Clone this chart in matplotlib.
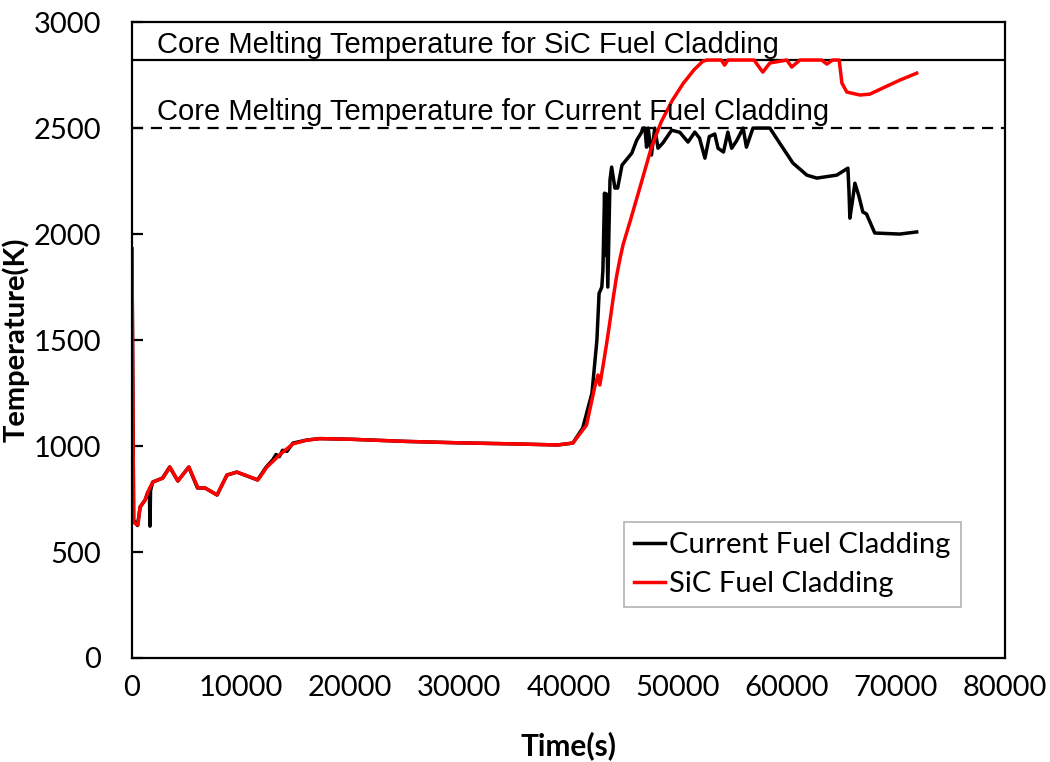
import matplotlib.pyplot as plt

# Current fuel cladding (black)
time_current = [0, 150, 500, 750, 1200, 1450, 1600, 1650, 1700, 1900, 2800, 3450, 4200, 5200,
                6000, 6700, 7800, 8700, 9600, 11500, 12300, 12900, 13200, 13500, 13800, 14200,
                14750, 16000, 17200, 20000, 25000, 30000, 35000, 39000, 40400, 41300, 42150,
                42600, 42800, 43050, 43150, 43300, 43400, 43450, 43600, 43800, 43950, 44250,
                44500, 44900, 45800, 46250, 46700, 46800, 47000, 47150, 47300, 47600, 47900,
                48200, 48650, 49450, 50200, 50950, 51570, 52000, 52500, 52900, 53400, 53700,
                54200, 54600, 54950, 55400, 56000, 56300, 56900, 58450, 59350, 60560, 61840,
                62750, 64580, 65600, 65700, 65780, 66000, 66240, 66600, 66970, 67300, 68060,
                70350, 71900]
temp_current = [1930, 650, 625, 712, 745, 783, 760, 622, 790, 830, 849, 901, 835, 901,
                802, 802, 769, 863, 877, 840, 901, 935, 960, 950, 980, 975,
                1014, 1028, 1035, 1032, 1022, 1015, 1010, 1005, 1014, 1085, 1250,
                1500, 1720, 1750, 1830, 2193, 1900, 2190, 1750, 2255, 2316, 2217,
                2217, 2325, 2382, 2443, 2481, 2500, 2500, 2410, 2500, 2373, 2500,
                2405, 2430, 2490, 2480, 2434, 2481, 2453, 2358, 2460, 2472, 2405,
                2387, 2481, 2405, 2440, 2500, 2410, 2500, 2500, 2429, 2335, 2278,
                2264, 2278, 2311, 2200, 2075, 2150, 2240, 2180, 2104, 2095, 2005,
                2000, 2010]

# SiC fuel cladding (red)
time_sic = [0, 150, 550, 730, 1190, 1470, 1600, 1920, 2840, 3480, 4210, 5220, 6050, 6690,
            7790, 8700, 9620, 11540, 12370, 13560, 14750, 16030, 17220, 20000, 25000, 30000,
            35000, 39000, 40400, 41650, 42400, 42700, 42870, 43200, 43500, 43800, 44100,
            44400, 44700, 45000, 45700, 46600, 47600, 48500, 49500, 50500, 51500, 52300,
            52700, 54000, 54300, 54600, 57000, 57800, 58450, 60000, 60450, 61200, 63200,
            63670, 64200, 64800, 65050, 65500, 66700, 67600, 68800, 70350, 71900]
temp_sic = [1930, 640, 627, 712, 745, 783, 800, 830, 849, 901, 835, 901, 802, 802,
            769, 863, 877, 840, 901, 960, 1010, 1028, 1035, 1032, 1022, 1015,
            1010, 1005, 1014, 1099, 1278, 1335, 1288, 1390, 1486, 1590, 1700,
            1800, 1880, 1950, 2070, 2230, 2410, 2530, 2630, 2710, 2775, 2815,
            2821, 2821, 2797, 2821, 2821, 2764, 2807, 2821, 2788, 2821, 2821,
            2802, 2821, 2821, 2712, 2670, 2656, 2660, 2689, 2726, 2759]

melt_sic = 2821
melt_current = 2500

fig = plt.figure(figsize=(10.5, 7.62), dpi=100)
ax = fig.add_axes([0.1257, 0.1365, 0.8315, 0.8345])

ax.axhline(melt_sic, color='black', lw=1.6)
ax.axhline(melt_current, color='black', lw=1.6, ls=(0, (5, 3.5)))
ax.plot(time_current, temp_current, color='black', lw=2.5, label='Current Fuel Cladding')
ax.plot(time_sic, temp_sic, color='#ff0000', lw=2.5, label='SiC Fuel Cladding')

ax.text(2300, melt_sic + 33, 'Core Melting Temperature for SiC Fuel Cladding',
        fontsize=21, family='Liberation Sans', va='baseline')
ax.text(2300, melt_current + 38, 'Core Melting Temperature for Current Fuel Cladding',
        fontsize=21, family='Liberation Sans', va='baseline')

ax.set_xlim(0, 80000)
ax.set_ylim(0, 3000)
ax.set_xticks(range(0, 80001, 10000))
ax.set_yticks(range(0, 3001, 500))
for s in ax.spines.values():
    s.set_linewidth(1.6)
ax.tick_params(axis='y', direction='in', length=8, width=1.6, pad=22, labelsize=21)
ax.tick_params(axis='x', length=0, pad=12, labelsize=21)
for lab in ax.get_xticklabels() + ax.get_yticklabels():
    lab.set_family('Lato')

ax.set_xlabel('Time(s)', fontsize=21.5, fontweight='bold', family='Lato', labelpad=22)
ax.set_ylabel('Temperature(K)', fontsize=21, fontweight='bold', family='Lato')
ax.yaxis.set_label_coords(-0.117, 0.5)

leg = ax.legend(loc='lower right', bbox_to_anchor=(0.9496, 0.08), fancybox=False,
                prop={'family': 'Lato', 'size': 21}, handlelength=1.05, handletextpad=0.15,
                borderpad=0.35, labelspacing=0.45, borderaxespad=0)
leg.get_frame().set_edgecolor('#a0a0a0')
leg.get_frame().set_linewidth(1.2)

plt.savefig('out.png')
